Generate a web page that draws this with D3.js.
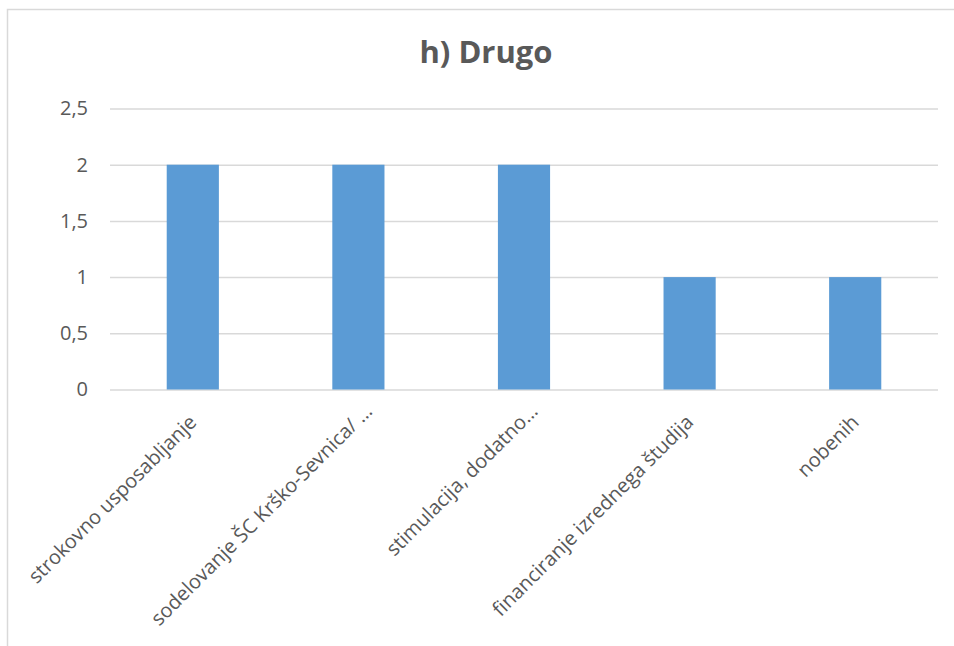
<!DOCTYPE html>
<html>
<head>
<meta charset="utf-8">
<script src="https://cdn.jsdelivr.net/npm/d3@7"></script>
<style>
  html, body { margin: 0; padding: 0; background: #fff; }
  svg { display: block; }
</style>
</head>
<body>
<script>
const title = "h) Drugo";
const categories = [
  "strokovno usposabljanje",
  "sodelovanje ŠC Krško-Sevnica/ …",
  "stimulacija, dodatno…",
  "financiranje izrednega študija",
  "nobenih"
];
const values = [2, 2, 2, 1, 1];
const yTicks = [0, 0.5, 1, 1.5, 2, 2.5];

const W = 954, H = 646;
const margin = { left: 110, right: 16, top: 108.5, bottom: 256.5 };
const textColor = "#595959";
const font = "'Open Sans', sans-serif";

const svg = d3.select("body").append("svg")
  .attr("width", W).attr("height", H);

// chart frame (only left and top visible)
svg.append("rect")
  .attr("x", 7.5).attr("y", 9.5)
  .attr("width", W + 20).attr("height", H + 20)
  .attr("fill", "#fff").attr("stroke", "#d9d9d9").attr("stroke-width", 1.5);

const x = d3.scaleBand()
  .domain(categories)
  .range([margin.left, W - margin.right])
  .paddingInner(0.685).paddingOuter(0.3425);

const y = d3.scaleLinear()
  .domain([0, 2.5])
  .range([H - margin.bottom, margin.top]);

// gridlines
const yAxis = d3.axisLeft(y)
  .tickValues(yTicks)
  .tickSize(-(W - margin.right - margin.left))
  .tickPadding(22)
  .tickFormat(d => d3.format("")(d).replace(".", ","));

const gy = svg.append("g")
  .attr("transform", `translate(${margin.left},0)`)
  .call(yAxis);
gy.select(".domain").remove();
gy.selectAll(".tick line").attr("stroke", "#d9d9d9").attr("stroke-width", 1.5);
gy.selectAll(".tick text")
  .attr("fill", textColor)
  .attr("font-family", font)
  .attr("font-size", 20);

// bars
svg.append("g").selectAll("rect")
  .data(values)
  .join("rect")
  .attr("x", (d, i) => x(categories[i]))
  .attr("width", x.bandwidth())
  .attr("y", d => y(d))
  .attr("height", d => y(0) - y(d))
  .attr("fill", "#5b9bd5");

// x axis labels (truncated labels sit one step further along, as in Excel)
const xAxis = d3.axisBottom(x).tickSize(0).tickPadding(0);
const gx = svg.append("g")
  .attr("transform", `translate(0,${y(0)})`)
  .call(xAxis);
gx.select(".domain").remove();
gx.selectAll(".tick text")
  .attr("fill", textColor)
  .attr("font-family", font)
  .attr("font-size", 20)
  .attr("text-anchor", "end")
  .attr("dy", 0)
  .attr("y", 0)
  .attr("transform", d => d.endsWith("…")
    ? "translate(15,23) rotate(-45)"
    : "translate(5,34) rotate(-45)");

// title
svg.append("text")
  .attr("x", 486).attr("y", 63)
  .attr("text-anchor", "middle")
  .attr("fill", textColor)
  .attr("font-family", font)
  .attr("font-weight", "bold")
  .attr("font-size", 31)
  .text(title);
</script>
</body>
</html>
